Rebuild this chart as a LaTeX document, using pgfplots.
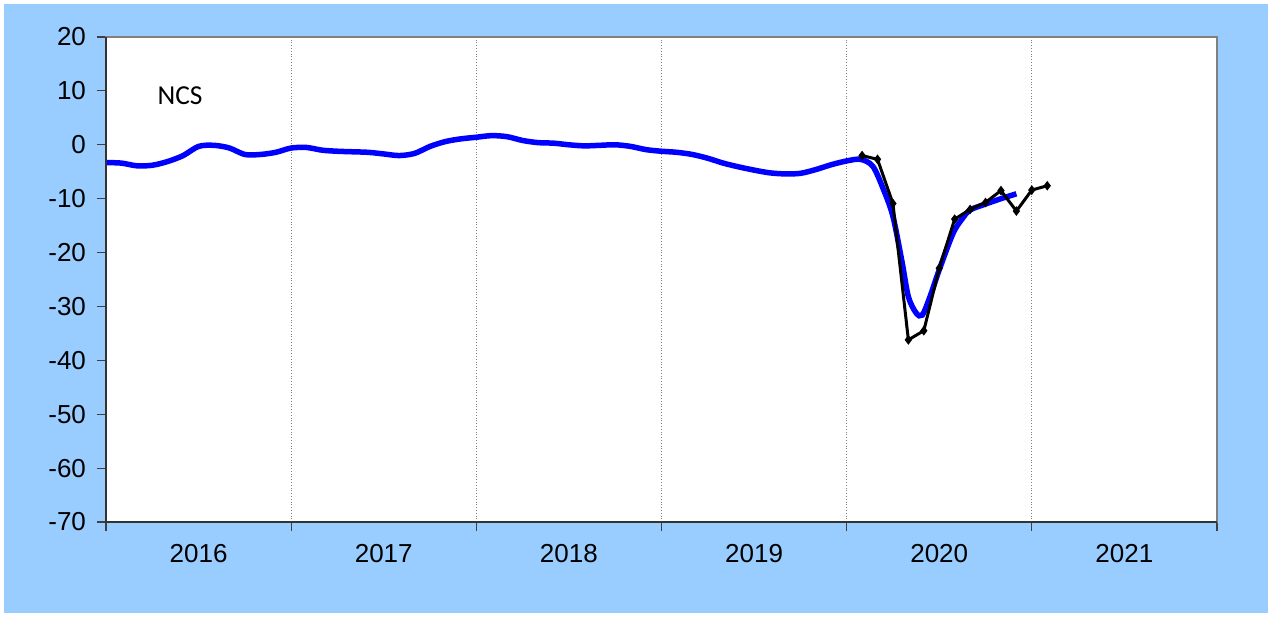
\documentclass[border=0pt]{standalone}
\usepackage{pgfplots}
\pgfplotsset{compat=1.18}
\usepackage{fontspec}
\setmainfont{Liberation Sans}
\newfontfamily\calfont{Carlito}
\definecolor{bgblue}{RGB}{153,204,255}
\definecolor{gridgray}{RGB}{128,128,128}
\begin{document}
\begin{tikzpicture}
\useasboundingbox (-53pt,-47.5pt) rectangle (582.5pt,261pt);
\fill[white] (-53pt,-47.5pt) rectangle (582.5pt,261pt);
\fill[bgblue] (-51pt,-45.5pt) rectangle (581pt,259pt);
\begin{axis}[
  scale only axis,
  width=555.5pt, height=242.5pt,
  xmin=0, xmax=72, ymin=-70, ymax=20,
  axis background/.style={fill=white},
  axis line style={gridgray, line width=0.8pt},
  xtick={0,12,...,72},
  xticklabels={2016,2017,2018,2019,2020,2021,},
  x tick label as interval,
  ytick={-70,-60,...,20},
  yticklabels={-70,-60,-50,-40,-30,-20,-10,0,10,20},
  tick align=outside,
  tick pos=left,
  major tick length=4.5pt,
  tick style={black!75, line width=0.6pt},
  xmajorgrids,
  major x grid style={gridgray, densely dotted, line width=0.5pt},
  tick label style={font=\fontsize{13}{15}\selectfont},
  yticklabel style={xshift=-2pt},
  xticklabel style={yshift=-3pt},
  clip=false,
]
\addplot[blue, line width=2.75pt, smooth, tension=0.5] coordinates {
(0,-3.3) (1,-3.4) (2,-3.9) (3,-3.8) (4,-3.1) (5,-2.0) (6,-0.3) (7,-0.1) (8,-0.6) (9,-1.8)
(10,-1.8) (11,-1.4) (12,-0.6) (13,-0.5) (14,-1.0) (15,-1.2) (16,-1.3) (17,-1.4) (18,-1.7) (19,-2.0)
(20,-1.6) (21,-0.3) (22,0.6) (23,1.1) (24,1.4) (25,1.7) (26,1.5) (27,0.8) (28,0.4) (29,0.3)
(30,0.0) (31,-0.2) (32,-0.1) (33,0.0) (34,-0.3) (35,-0.9) (36,-1.2) (37,-1.4) (38,-1.8) (39,-2.5)
(40,-3.4) (41,-4.1) (42,-4.7) (43,-5.2) (44,-5.4) (45,-5.3) (46,-4.6) (47,-3.7) (48,-3.0)
(48.9,-2.7) (49.7,-4.0) (50.4,-8.4) (51,-13.3) (51.6,-21.9) (52,-28.2) (52.5,-31.2) (52.9,-31.6)
(53.4,-28.2) (54,-23.2) (54.9,-16.4) (55.5,-13.7) (56,-12.1) (57,-11.0) (58,-10.0) (59,-9.1)
};
\addplot[black, line width=1.5pt, mark=diamond*, mark size=1.2pt] coordinates {
(49,-2.0) (50,-2.7) (51,-10.9) (52,-36.2) (53,-34.5) (54,-22.9) (55,-13.8)
(56,-12.0) (57,-10.7) (58,-8.5) (59,-12.3) (60,-8.4) (61,-7.6)
};
\node[font=\calfont\fontsize{13.7}{16}\selectfont] at (axis cs:4.8,9.05) {NCS};
\draw[black!80, line width=0.8pt] (rel axis cs:0,1) -- (rel axis cs:0,0) -- (rel axis cs:1,0);
\end{axis}
\end{tikzpicture}
\end{document}
